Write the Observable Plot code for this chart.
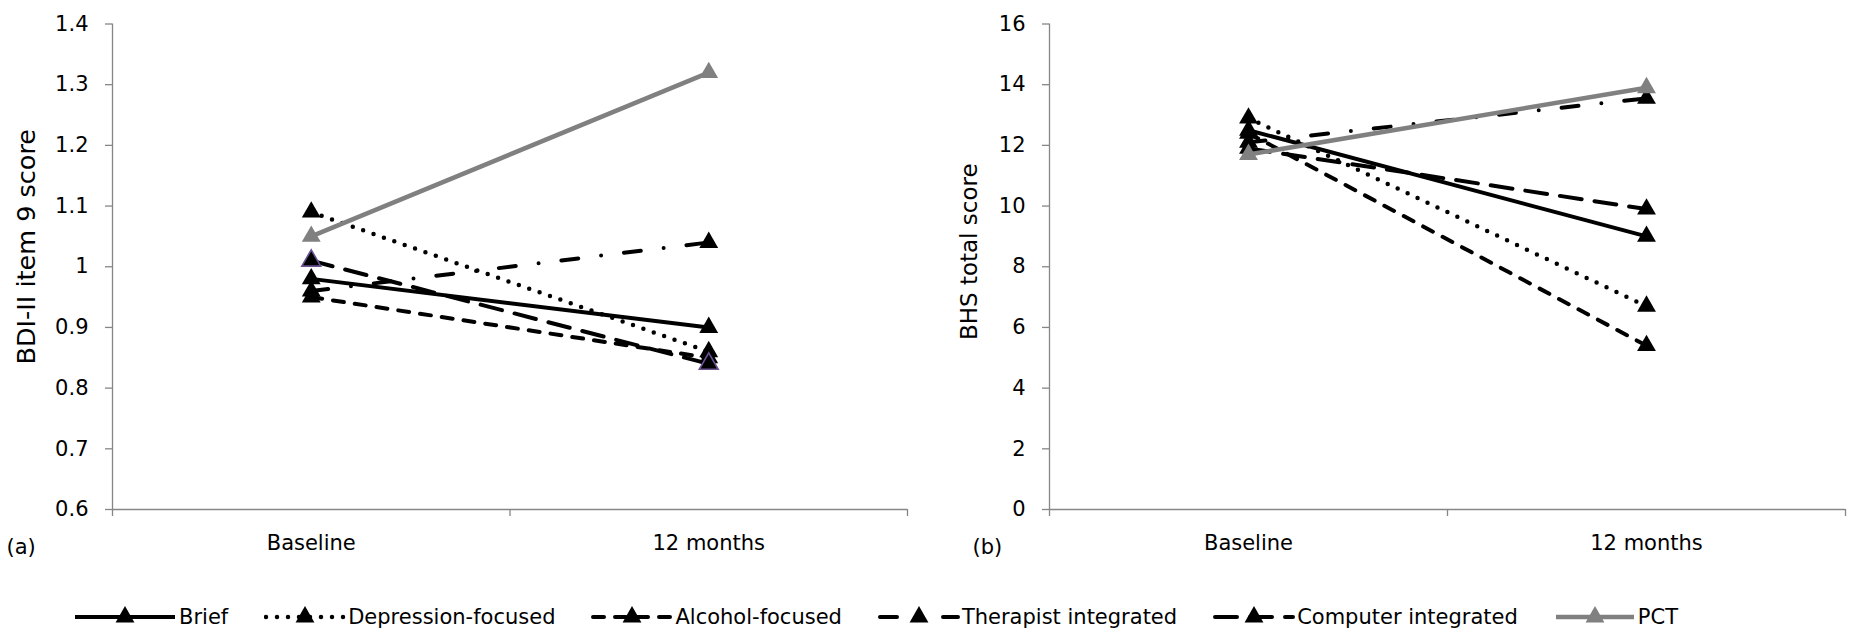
<!DOCTYPE html>
<html><head><meta charset="utf-8">
<script src="https://cdn.jsdelivr.net/npm/d3@7"></script>
<script src="https://cdn.jsdelivr.net/npm/@observablehq/plot@0.6"></script>
<style>
body{margin:0;background:#fff;font-family:"DejaVu Sans",Verdana,sans-serif;}
#wrap{position:relative;width:1854px;height:638px;overflow:hidden;}
#plots{display:flex;}
#legend{position:absolute;left:73px;top:605px;display:flex;align-items:center;font-size:21px;white-space:nowrap;}
.item{display:flex;align-items:center;margin-right:36px;}
.item span{margin-left:2px;}
</style></head><body>
<div id="wrap"><div id="plots"></div><div id="legend"></div></div>
<script>
// ---- data ----
const timepoints = ["Baseline", "12 months"];
const groups = ["Brief", "Depression-focused", "Alcohol-focused", "Therapist integrated", "Computer integrated", "PCT"];
const bdiBaseline = [0.98, 1.09, 0.95, 0.96, 1.01, 1.05];
const bdi12 = [0.90, 0.86, 0.85, 1.04, 0.84, 1.32];
const bhsBaseline = [12.5, 12.9, 12.4, 12.1, 11.9, 11.7];
const bhs12 = [9.0, 6.7, 5.4, 13.55, 9.9, 13.9];
const bdiTicks = [0.6, 0.7, 0.8, 0.9, 1, 1.1, 1.2, 1.3, 1.4];
const bhsTicks = [0, 2, 4, 6, 8, 10, 12, 14, 16];

// ---- styles ----
const styles = {
  "Brief": {stroke: "#000", dash: null, width: 4},
  "Depression-focused": {stroke: "#000", dash: "0 11", width: 4.5},
  "Alcohol-focused": {stroke: "#000", dash: "11 11", width: 4},
  "Therapist integrated": {stroke: "#000", dash: "17 23 0 23", width: 4},
  "Computer integrated": {stroke: "#000", dash: "22 13", width: 4},
  "PCT": {stroke: "#808080", dash: null, width: 4.5}
};
const axisGray = "#868686";
const FS = 21;

function panel(o) {
  const rows = [];
  groups.forEach((g, i) => {
    rows.push({group: g, t: 0.5, v: o.v0[i]});
    rows.push({group: g, t: 1.5, v: o.v1[i]});
  });
  const marks = [
    Plot.ruleX([0], {stroke: axisGray, strokeWidth: 1.3}),
    Plot.ruleY([o.ticks[0]], {stroke: axisGray, strokeWidth: 1.3}),
    Plot.axisY({ticks: o.ticks, tickSize: 7, tickPadding: 17, stroke: axisGray, strokeWidth: 1.3, fill: "#000", fontSize: FS, label: null, tickFormat: d => String(d)}),
    Plot.axisX({ticks: [0, 1, 2], tickSize: 7, stroke: axisGray, strokeWidth: 1.3, tickFormat: () => "", label: null}),
    Plot.axisX({ticks: [0.5, 1.5], tickSize: 0, tickPadding: 26, fill: "#000", fontSize: FS, tickFormat: d => timepoints[Math.floor(d)], label: null}),
    Plot.text([o.label], {frameAnchor: "left", textAnchor: "middle", rotate: -90, dx: o.titleDx, dy: o.titleDy, fontSize: o.titleFS, fill: "#000"}),
    Plot.text([o.tag], {frameAnchor: "bottom-left", textAnchor: "start", lineAnchor: "top", dx: o.tagDx, dy: 30, fontSize: FS, fill: "#000"})
  ];
  groups.forEach(g => {
    const s = styles[g];
    const d = rows.filter(r => r.group === g);
    marks.push(Plot.line(d, {x: "t", y: "v", stroke: s.stroke, strokeWidth: s.width, strokeDasharray: s.dash, strokeLinecap: s.dash ? "round" : "butt"}));
    const purple = o.purple && g === "Computer integrated";
    marks.push(Plot.dot(d, {x: "t", y: "v", symbol: "triangle", r: 7, fill: s.stroke, stroke: purple ? "#6a5293" : "none", strokeWidth: purple ? 1.6 : 0}));
  });
  return Plot.plot({
    width: 927, height: 580,
    marginLeft: o.ml, marginRight: o.mr, marginTop: 23.5, marginBottom: 71,
    x: {type: "linear", domain: [0, 2], axis: null},
    y: {domain: [o.ticks[0], o.ticks[o.ticks.length - 1]], axis: null},
    style: {fontFamily: "DejaVu Sans, Verdana, sans-serif", fontSize: FS + "px", background: "white", color: "#000", overflow: "visible"},
    marks
  });
}

const plots = document.getElementById("plots");
plots.appendChild(panel({v0: bdiBaseline, v1: bdi12, ticks: bdiTicks, label: "BDI-II item 9 score", tag: "(a)", ml: 112, mr: 20, titleDx: -86, titleDy: -20, titleFS: 25.5, tagDx: -106, purple: true}));
plots.appendChild(panel({v0: bhsBaseline, v1: bhs12, ticks: bhsTicks, label: "BHS total score", tag: "(b)", ml: 122, mr: 9, titleDx: -80, titleDy: -15, titleFS: 23, tagDx: -77, purple: false}));

// ---- legend ----
const legend = document.getElementById("legend");
groups.forEach((g, i) => {
  const s = styles[g];
  const w = i === 0 ? 104 : 82;
  const item = document.createElement("div");
  item.className = "item";
  const ns = "http://www.w3.org/2000/svg";
  const svg = document.createElementNS(ns, "svg");
  svg.setAttribute("width", w); svg.setAttribute("height", 22);
  const line = document.createElementNS(ns, "line");
  line.setAttribute("x1", 2); line.setAttribute("x2", w - 2); line.setAttribute("y1", 11); line.setAttribute("y2", 11);
  line.setAttribute("stroke", s.stroke); line.setAttribute("stroke-width", s.width);
  if (s.dash) { line.setAttribute("stroke-dasharray", s.dash); line.setAttribute("stroke-linecap", "round"); }
  svg.appendChild(line);
  const tri = document.createElementNS(ns, "path");
  tri.setAttribute("d", d3.symbol(d3.symbolTriangle, 7 * 7 * Math.PI)());
  tri.setAttribute("transform", `translate(${w / 2},11)`);
  tri.setAttribute("fill", s.stroke);
  svg.appendChild(tri);
  item.appendChild(svg);
  const span = document.createElement("span");
  span.textContent = g;
  item.appendChild(span);
  legend.appendChild(item);
});
</script>
</body></html>
